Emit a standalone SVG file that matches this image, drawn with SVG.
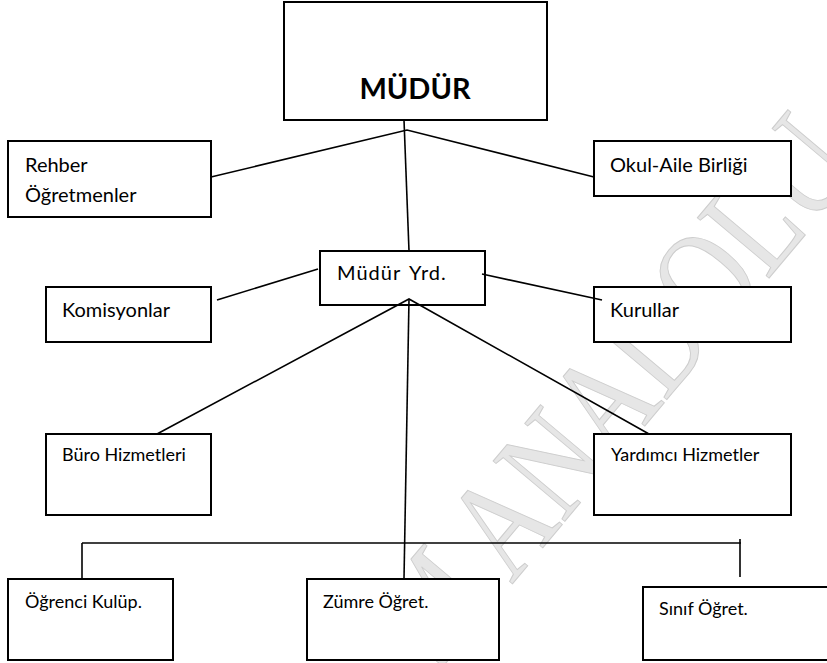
<svg xmlns="http://www.w3.org/2000/svg" width="827" height="663" viewBox="0 0 827 663">
<style>
.box{fill:#fff;stroke:#000;stroke-width:2}
.ln{fill:none;stroke:#000;stroke-width:1.6}
.t{font-family:Lato,"Open Sans","Liberation Sans",sans-serif;font-size:20px;fill:#000}
.s{font-family:Lato,"Open Sans","Liberation Sans",sans-serif;font-size:18px;fill:#000}
.b{font-family:Lato,"Open Sans","Liberation Sans",sans-serif;font-size:29px;font-weight:bold;fill:#000}
.wm{font-family:"Liberation Serif","DejaVu Serif",serif;font-size:110px;fill:#e6e6e6;stroke:#cdcdcd;stroke-width:0.8}
</style>
<rect width="827" height="663" fill="#fff"/>
<g id="watermark">
<text class="wm" transform="translate(435,676) rotate(-50) scale(1,1.3)">M ANADOLU</text>
</g>
<g id="n-mudur"><rect class="box" x="284" y="2" width="263" height="118"/><text class="b" x="415" y="99" text-anchor="middle">MÜDÜR</text></g>
<g id="n-rehber"><rect class="box" x="8" y="141" width="203" height="76"/><text class="t" x="25" y="172">Rehber</text><text class="t" x="25" y="202">Öğretmenler</text></g>
<g id="n-okul"><rect class="box" x="594" y="141" width="197" height="55"/><text class="t" x="610" y="172">Okul-Aile Birliği</text></g>
<g id="n-yrd"><rect class="box" x="320" y="251" width="165" height="54"/><text class="t" x="337" y="280" word-spacing="3" letter-spacing="1">Müdür Yrd.</text></g>
<g id="n-komisyon"><rect class="box" x="46" y="287" width="165" height="55"/><text class="t" x="62" y="317">Komisyonlar</text></g>
<g id="n-kurul"><rect class="box" x="594" y="287" width="197" height="55"/><text class="t" x="610" y="317">Kurullar</text></g>
<g id="n-buro"><rect class="box" x="46" y="434" width="165" height="81"/><text class="s" x="62" y="461">Büro Hizmetleri</text></g>
<g id="n-yardimci"><rect class="box" x="594" y="434" width="197" height="81"/><text class="s" x="611" y="461">Yardımcı Hizmetler</text></g>
<g id="n-ogrenci"><rect class="box" x="8" y="579" width="165" height="81"/><text class="s" x="25" y="608">Öğrenci Kulüp.</text></g>
<g id="n-zumre"><rect class="box" x="307" y="579" width="192" height="81"/><text class="s" x="323" y="608">Zümre Öğret.</text></g>
<g id="n-sinif"><rect class="box" x="643" y="587" width="190" height="73"/><text class="s" x="659" y="615">Sınıf Öğret.</text></g>
<g id="connectors">
<line class="ln" x1="404" y1="120" x2="409" y2="251"/>
<polyline class="ln" points="211,177 407,130 594,177"/>
<line class="ln" x1="217" y1="300" x2="318" y2="269"/>
<line class="ln" x1="482" y1="274" x2="602" y2="300"/>
<polyline class="ln" points="157,434 409,299 649,434"/>
<line class="ln" x1="409" y1="299" x2="404" y2="579"/>
<line class="ln" x1="82" y1="543" x2="741" y2="543"/>
<line class="ln" x1="82" y1="543" x2="82" y2="579"/>
<line class="ln" x1="740" y1="539" x2="740" y2="577"/>
</g>
</svg>
